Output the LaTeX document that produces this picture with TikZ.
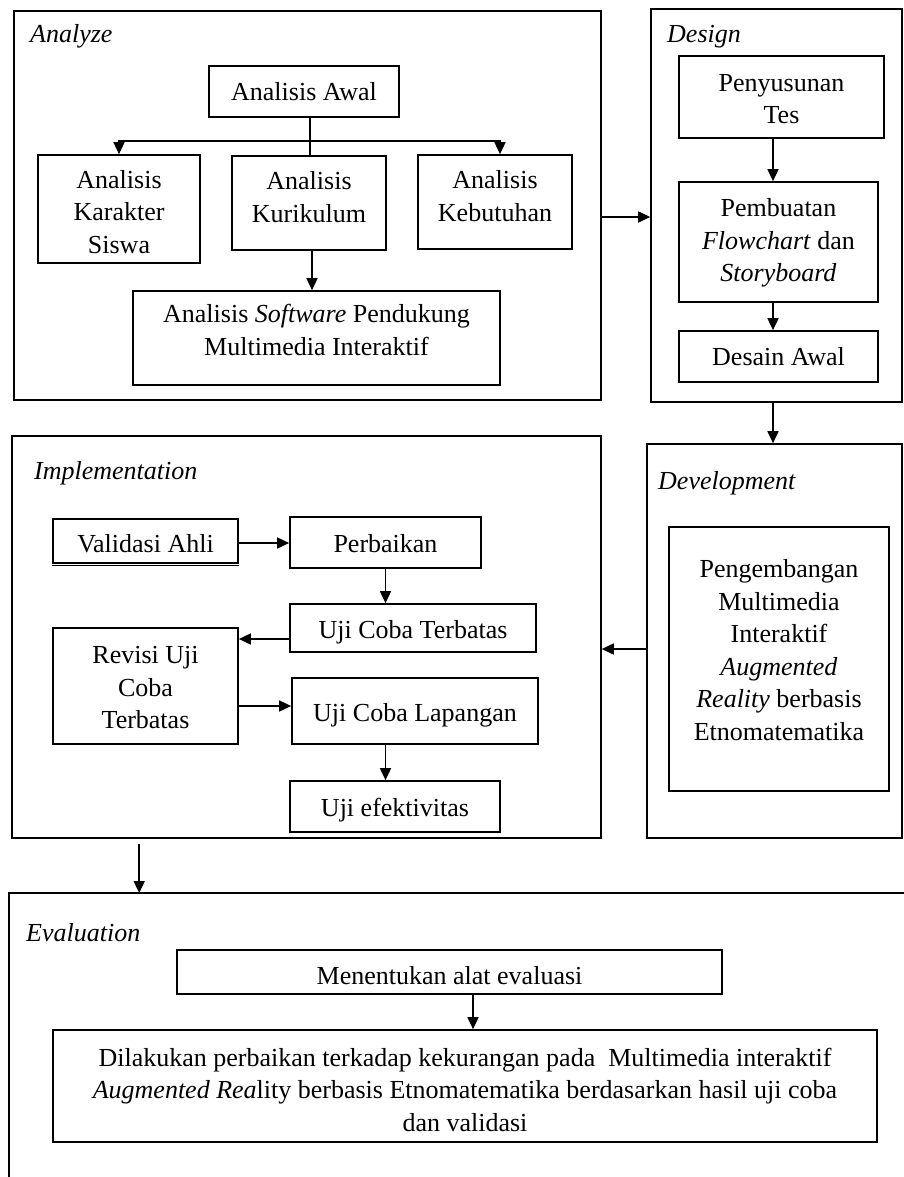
\documentclass[tikz,border=0pt]{standalone}
\usepackage{fontspec}
\setmainfont{Liberation Serif}
\usetikzlibrary{arrows.meta,calc}
\begin{document}
\begin{tikzpicture}[x=1pt,y=-1pt,
  every node/.style={font=\fontsize{26}{32.5}\selectfont},
  box/.style={draw, line width=1.7pt, inner sep=0pt},
  txt/.style={align=center, inner sep=0pt},
  frame/.style={draw, line width=1.6pt, inner sep=0pt},
  lbl/.style={anchor=base west, inner sep=0pt, font=\fontsize{26}{32.5}\selectfont\itshape},
  arr/.style={line width=1.7pt, -{Triangle[length=12pt,width=11pt]}},
  ln/.style={line width=1.7pt}]
\useasboundingbox (0,0) rectangle (904,1177);

% frames
\node[frame, minimum width=587pt, minimum height=389pt] (analyze) at (307.5,205.5) {};
\node[frame, minimum width=251pt, minimum height=393pt] (design) at (776.5,205.5) {};
\node[frame, minimum width=589pt, minimum height=402pt] (impl) at (306.5,637) {};
\node[frame, minimum width=255pt, minimum height=394pt] (dev) at (774.5,641) {};
\coordinate (evalTL) at (9,893);
\coordinate (evalBL) at (9,1177);
\coordinate (evalTR) at (904,893);
\draw[line width=1.6pt] (evalBL) -- (evalTL) -- (evalTR);

% frame labels
\node[lbl] (lAn) at (30,43) {Analyze};
\node[lbl] (lDe) at (667,43) {Design};
\node[lbl] (lIm) at (34,479) {Implementation};
\node[lbl] (lDv) at (658,489) {Development};
\node[lbl] (lEv) at (26,941) {Evaluation};

% Analyze
\node[box, minimum width=190pt, minimum height=51pt] (awal) at (304,91.5) {};
\node[txt] (awalT) at ($(awal.center)+(0,0.5)$) {Analisis Awal};
\node[box, minimum width=162pt, minimum height=108pt] (kar) at (119,209) {};
\node[txt] (karT) at ($(kar.center)+(0,3)$) {Analisis\\Karakter\\Siswa};
\node[box, minimum width=154pt, minimum height=94pt] (kur) at (309,203) {};
\node[txt] (kurT) at ($(kur.center)+(0,-6)$) {Analisis\\Kurikulum};
\node[box, minimum width=154pt, minimum height=94pt] (keb) at (495,202) {};
\node[txt] (kebT) at ($(keb.center)+(0,-6)$) {Analisis\\Kebutuhan};
\node[box, minimum width=367pt, minimum height=94pt] (sw) at (316.5,338) {};
\node[txt] (swT) at ($(sw.center)+(0,-8)$) {Analisis \textit{Software} Pendukung\\Multimedia Interaktif};

\coordinate (fork) at ($(awal.south)+(6pt,-23pt)$);
\draw[ln] ([xshift=6pt]awal.south) -- ([xshift=6pt]awal.south |- kur.north);
\draw[arr] (fork) -| (kar.north);
\draw[arr] (fork) -| ([xshift=5pt]keb.north);
\draw[arr] ([xshift=3pt]kur.south) -- ([xshift=3pt]kur.south |- sw.north);

% Design
\node[box, minimum width=205pt, minimum height=82pt] (pst) at (781.5,97) {};
\node[txt] (pstT) at ($(pst.center)+(0,2)$) {Penyusunan\\Tes};
\node[box, minimum width=199pt, minimum height=120pt] (pemb) at (778.5,242) {};
\node[txt] (pembT) at ($(pemb.center)+(0,1)$) {Pembuatan\\\textit{Flowchart} dan\\\textit{Storyboard}};
\node[box, minimum width=199pt, minimum height=51pt] (desain) at (778.5,356.5) {};
\node[txt] (desainT) at ($(desain.center)+(0,0.5)$) {Desain Awal};
\draw[arr] ([xshift=-8.5pt]pst.south) -- ([xshift=-8.5pt]pst.south |- pemb.north);
\draw[arr] ([xshift=-5.5pt]pemb.south) -- ([xshift=-5.5pt]pemb.south |- desain.north);

\draw[arr] ([yshift=-11.5pt]analyze.east) -- ([yshift=-11.5pt]analyze.east -| design.west);
\draw[arr] ([xshift=-3.5pt]design.south) -- ([xshift=-3.5pt]design.south |- dev.north);

% Development
\node[box, minimum width=220pt, minimum height=264pt] (devin) at (779,659) {};
\node[txt] (devinT) at ($(devin.center)+(0,-9)$) {Pengembangan\\Multimedia\\Interaktif\\\textit{Augmented}\\\textit{Reality} berbasis\\Etnomatematika};
\draw[arr] ([yshift=-8pt]dev.west) -- ([yshift=-8pt]dev.west -| impl.east);

% Implementation
\node[box, minimum width=185pt, minimum height=44pt] (val) at (145.5,541) {};
\node[txt] (valT) at ($(val.center)+(0,3)$) {Validasi Ahli};
\draw[line width=1.2pt] ([yshift=-2pt]val.south west) -- ([yshift=-2pt]val.south east);
\node[box, minimum width=191pt, minimum height=51pt] (per) at (385.5,542.5) {};
\node[txt] (perT) at ($(per.center)+(0,1)$) {Perbaikan};
\node[box, minimum width=246pt, minimum height=48pt] (uct) at (413,628) {};
\node[txt] (uctT) at ($(uct.center)+(0,4)$) {Uji Coba Terbatas};
\node[box, minimum width=185pt, minimum height=116pt] (rev) at (145.5,686) {};
\node[txt] (revT) at ($(rev.center)+(0,2)$) {Revisi Uji\\Coba\\Terbatas};
\node[box, minimum width=246pt, minimum height=66pt] (lap) at (415,711) {};
\node[txt] (lapT) at ($(lap.center)+(0,4)$) {Uji Coba Lapangan};
\node[box, minimum width=210pt, minimum height=51pt] (eff) at (395,806.5) {};
\node[txt] (effT) at ($(eff.center)+(0,4)$) {Uji efektivitas};

\draw[arr] ([yshift=-2pt]val.east) -- ([yshift=-2pt]val.east -| per.west);
\draw[arr] (per.south) -- (per.south |- uct.north);
\draw[arr] ([yshift=-11pt]uct.west) -- ([yshift=-11pt]uct.west -| rev.east);
\draw[arr] ([yshift=5pt]lap.west -| rev.east) -- ([yshift=5pt]lap.west);
\draw[arr] (per.south |- lap.south) -- (per.south |- eff.north);

% Implementation -> Evaluation
\coordinate (e1) at ([xshift=128pt,yshift=-5pt]impl.south west);
\draw[arr] (e1) -- (e1 |- evalTL);

% Evaluation
\node[box, minimum width=545pt, minimum height=44pt] (men) at (449.5,972) {};
\node[txt] (menT) at ($(men.center)+(0,4)$) {Menentukan alat evaluasi};
\node[box, minimum width=824pt, minimum height=112pt] (dil) at (465,1086) {};
\node[txt] (dilT) at ($(dil.center)+(0,3.5)$) {Dilakukan perbaikan terkadap kekurangan pada~ Multimedia interaktif\\\textit{Augmented Rea}lity berbasis Etnomatematika berdasarkan hasil uji coba\\dan validasi};
\draw[arr] ([xshift=23.5pt]men.south) -- ([xshift=23.5pt]men.south |- dil.north);
\end{tikzpicture}
\end{document}
